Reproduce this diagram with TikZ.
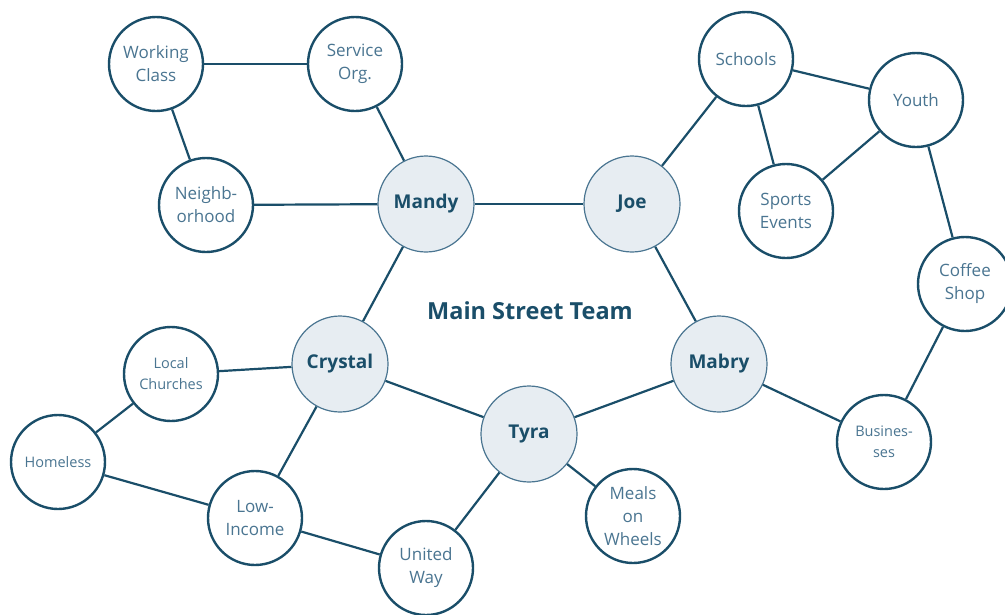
\documentclass[tikz,border=0pt]{standalone}
\usepackage{fontspec}
\setmainfont{Open Sans}
\usepackage{xcolor}
\usetikzlibrary{positioning}
\definecolor{teamdark}{HTML}{1A4E69}
\definecolor{teamtext}{HTML}{4A7591}
\definecolor{teamfill}{HTML}{E7EDF2}

\begin{document}
\begin{tikzpicture}[x=1pt, y=-1pt]
		\tikzstyle{every node}=[font=\fontsize{17}{23}\selectfont, align=center]
		\tikzstyle{member}=[circle, minimum size=96pt, inner sep=0pt, draw=teamtext, line width=1.2pt, fill=teamfill, text=teamdark, font=\fontsize{19}{23}\selectfont\bfseries]
		\tikzstyle{group}=[circle, minimum size=94pt, inner sep=0pt, draw=teamdark, line width=2.4pt, fill=white, text=teamtext]
		\tikzstyle{small}=[font=\fontsize{14.5}{21}\selectfont]
		\tikzstyle{link}=[line width=2.2pt, draw=teamdark]
		\useasboundingbox (0,0) rectangle (1005,614);
		% team
		\node [member] (mandy) at (426,204) {Mandy};
		\node [member] (joe) at (632,204) {Joe};
		\node [member] (crystal) at (340,364) {Crystal};
		\node [member] (mabry) at (719,364) {Mabry};
		\node [member] (tyra) at (529,434) {Tyra};
		\node [font=\fontsize{23.5}{27}\selectfont\bfseries, text=teamdark] (title) at (530,311) {Main Street Team};
		% groups
		\node [group] (working) at (156,64) {Working\\Class};
		\node [group] (service) at (355,64) {Service\\Org.};
		\node [group] (neighbor) at (206,205) {Neighb-\\orhood};
		\node [group] (schools) at (746,59) {Schools};
		\node [group] (youth) at (916,100) {Youth};
		\node [group] (sports) at (786,211) {Sports\\Events};
		\node [group] (coffee) at (965,284) {Coffee\\Shop};
		\node [group, small] (churches) at (171,374) {Local\\Churches};
		\node [group, small] (homeless) at (58,462) {Homeless};
		\node [group, small] (business) at (884,442) {Busines-\\ses};
		\node [group] (lowincome) at (255,518) {Low-\\Income};
		\node [group] (meals) at (633,516) {Meals\\on\\Wheels};
		\node [group] (united) at (426,568) {United\\Way};
		% links
		\draw [link] (working) -- (service);
		\draw [link] (working) -- (neighbor);
		\draw [link] (service) -- (mandy);
		\draw [link] (neighbor) -- (mandy);
		\draw [link] (mandy) -- (joe);
		\draw [link] (mandy) -- (crystal);
		\draw [link] (joe) -- (schools);
		\draw [link] (joe) -- (mabry);
		\draw [link] (schools) -- (youth);
		\draw [link] (schools) -- (sports);
		\draw [link] (youth) -- (sports);
		\draw [link] (youth) -- (coffee);
		\draw [link] (coffee) -- (business);
		\draw [link] (mabry) -- (business);
		\draw [link] (mabry) -- (tyra);
		\draw [link] (crystal) -- (tyra);
		\draw [link] (crystal) -- (churches);
		\draw [link] (crystal) -- (lowincome);
		\draw [link] (churches) -- (homeless);
		\draw [link] (homeless) -- (lowincome);
		\draw [link] (lowincome) -- (united);
		\draw [link] (united) -- (tyra);
		\draw [link] (tyra) -- (meals);
		\end{tikzpicture}
\end{document}
